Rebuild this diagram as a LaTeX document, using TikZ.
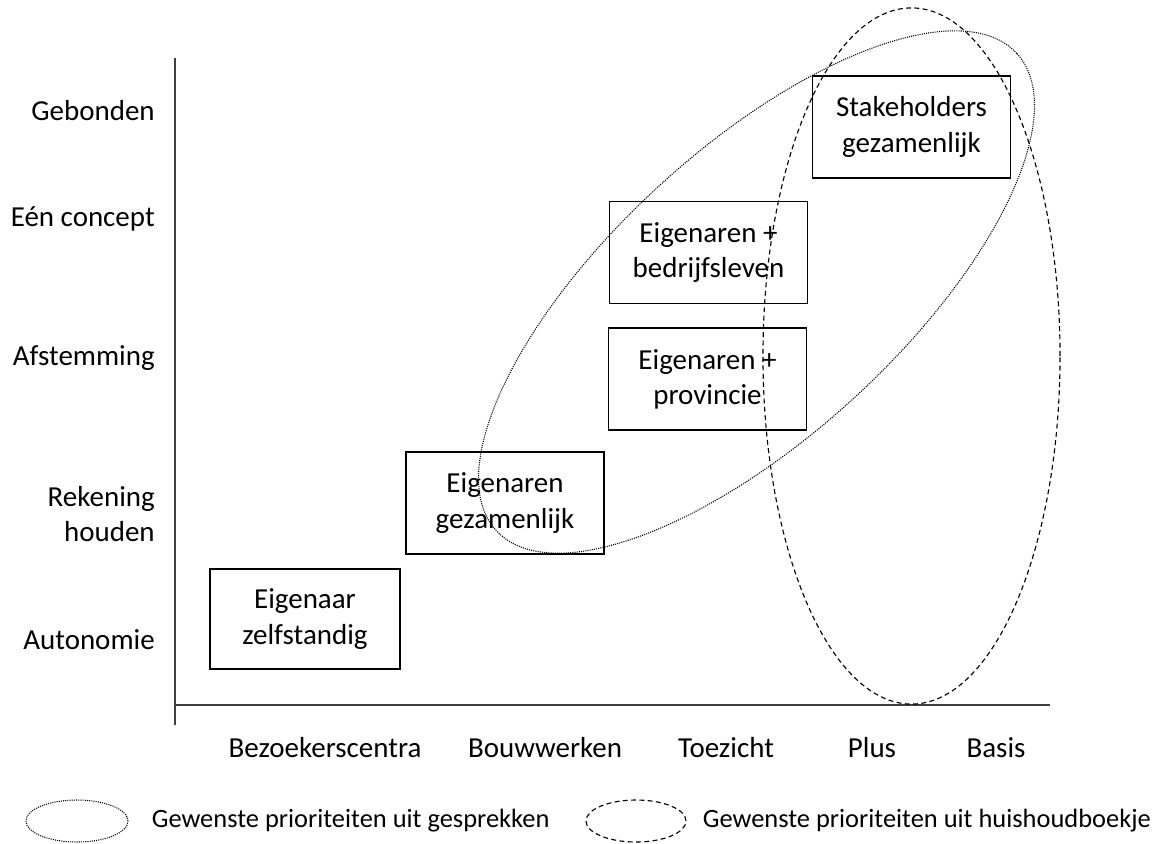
\documentclass[tikz,border=0pt]{standalone}
\usepackage{fontspec}
\setmainfont{Carlito}
\usepackage{tikz}
\usetikzlibrary{shapes, positioning}

\begin{document}
\begin{tikzpicture}[x=0.025cm, y=-0.025cm,
	box/.style={draw, line width=1pt, align=center, inner sep=0pt, minimum width=4.95cm, minimum height=2.55cm, font=\fontsize{20.6}{25}\selectfont},
	lbl/.style={align=right, inner sep=0pt, font=\fontsize{20.6}{25.5}\selectfont},
	legtxt/.style={inner sep=0pt, font=\fontsize{18.8}{22}\selectfont},
	axisline/.style={line width=0.8pt, black!75},
	gesprek/.style={line width=0.75pt, dash pattern=on 0.75pt off 0.8pt},
	huishoud/.style={line width=0.8pt, dash pattern=on 3.5pt off 2.4pt}]
	\useasboundingbox (0,0) rectangle (1164,843);
	
	% assen
	\coordinate (y_top) at (175,58);
	\coordinate (y_bot) at (175,725);
	\coordinate (x_left) at (175,705);
	\coordinate (x_right) at (1050,705);
	\draw[axisline] (y_top) -- (y_bot);
	\draw[axisline] (x_left) -- (x_right);
	
	% labels y-as
	\node[lbl, anchor=base east] (y_5) at (155,120) {Gebonden};
	\node[lbl, anchor=base east] (y_4) at (155,226) {Eén concept};
	\node[lbl, anchor=base east] (y_3) at (155,365) {Afstemming};
	\node[lbl, anchor=east] (y_2) at (155,514) {Rekening\\houden};
	\node[lbl, anchor=base east] (y_1) at (155,649) {Autonomie};
	
	% labels x-as
	\node[lbl, anchor=base] (x_1) at (325,757) {Bezoekerscentra};
	\node[lbl, anchor=base] (x_2) at (545,757) {Bouwwerken};
	\node[lbl, anchor=base] (x_3) at (726,757) {Toezicht};
	\node[lbl, anchor=base] (x_4) at (872,757) {Plus};
	\node[lbl, anchor=base] (x_5) at (996,757) {Basis};
	
	% blokken
	\node[box, minimum width=4.75cm, minimum height=2.5cm] (b_1) at (305,619) {Eigenaar\\zelfstandig};
	\node[box] (b_2) at (505,503) {Eigenaren\\gezamenlijk};
	\node[box] (b_3) at (707.5,379) {Eigenaren +\\provincie};
	\node[box] (b_4) at (708.5,252.5) {Eigenaren +\\bedrijfsleven};
	\node[box] (b_5) at (911.5,127) {Stakeholders\\gezamenlijk};
	
	% ellipsen
	\draw[gesprek, rotate around={42.5:(756.5,292)}] (756.5,292) ellipse [x radius=8.825cm, y radius=3.6cm];
	\draw[huishoud] (911.5,356) ellipse [x radius=3.7125cm, y radius=8.7cm];
	
	% legenda
	\node[ellipse, draw, gesprek, inner sep=0pt, minimum width=2.55cm, minimum height=1.05cm] (leg_1) at (77,821) {};
	\node[legtxt, right=0.575cm of leg_1] (leg_1_txt) {Gewenste prioriteiten uit gesprekken};
	\node[ellipse, draw, huishoud, inner sep=0pt, minimum width=2.5cm, minimum height=1.05cm] (leg_2) at (636,821) {};
	\node[legtxt, right=0.4cm of leg_2] (leg_2_txt) {Gewenste prioriteiten uit huishoudboekje};
\end{tikzpicture}
\end{document}
